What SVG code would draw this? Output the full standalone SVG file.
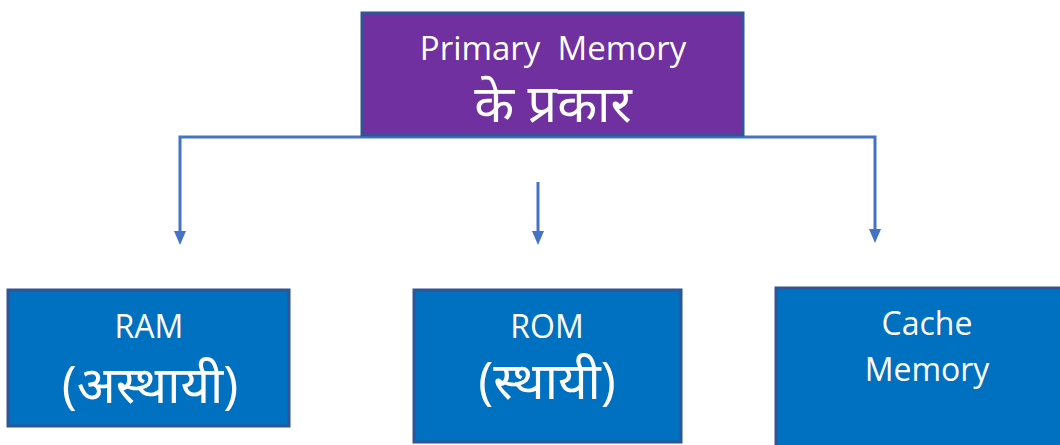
<svg xmlns="http://www.w3.org/2000/svg" width="1060" height="445" viewBox="0 0 1060 445">
<style>
.box{stroke:#2F5597;stroke-width:3}
.top{fill:#7030A0}
.blue{fill:#0070C0}
.t{font-family:"Open Sans","Noto Sans","Noto Sans Devanagari","Lohit Devanagari",sans-serif;fill:#fff;text-anchor:middle;white-space:pre}
.dv{font-weight:normal}
.conn{stroke:#4472C4;stroke-width:3;fill:none}
</style>
<rect width="1060" height="445" fill="#fff"/>
<g id="connectors">
<path class="conn" d="M180,233 V137 H875 V231"/>
<path class="conn" d="M538,182 V233"/>
<path d="M174,231 L186,231 L180,245 Z" fill="#4472C4"/>
<path d="M532,231 L544,231 L538,245 Z" fill="#4472C4"/>
<path d="M869,229 L881,229 L875,243 Z" fill="#4472C4"/>
</g>
<g id="primary">
<rect class="box top" x="362" y="13" width="381" height="122"/>
<text class="t" x="553" y="60" font-size="33" xml:space="preserve">Primary  Memory</text>
<text class="t dv" x="553" y="122" font-size="52">के प्रकार</text>
</g>
<g id="ram">
<rect class="box blue" x="8" y="290" width="281" height="136"/>
<text class="t" x="149" y="338" font-size="32">RAM</text>
<text class="t dv" x="150" y="403" font-size="51">(अस्थायी)</text>
</g>
<g id="rom">
<rect class="box blue" x="414" y="290" width="267" height="152"/>
<text class="t" x="547" y="338" font-size="32">ROM</text>
<text class="t dv" x="547" y="399" font-size="51">(स्थायी)</text>
</g>
<g id="cache">
<rect class="box blue" x="776" y="288" width="290" height="170"/>
<text class="t" x="927" y="335" font-size="32">Cache</text>
<text class="t" x="927" y="381" font-size="32">Memory</text>
</g>
</svg>
